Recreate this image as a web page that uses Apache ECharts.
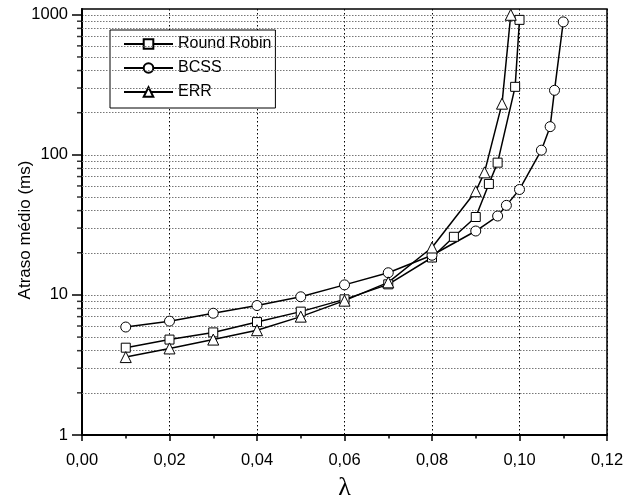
<!DOCTYPE html>
<html>
<head>
<meta charset="utf-8">
<script src="https://cdn.jsdelivr.net/npm/echarts@6/dist/echarts.min.js"></script>
<style>html,body{margin:0;padding:0;background:#fff;}#c{width:633px;height:499px;}</style>
</head>
<body>
<div id="c"></div>
<script>
const rrX   = [0.01,0.02,0.03,0.04,0.05,0.06,0.07,0.08,0.085,0.09,0.093,0.095,0.099,0.100];
const rrY   = [4.2,4.8,5.4,6.4,7.6,9.3,11.9,18.5,26,36,62,88,306,920];
const bcssX = [0.01,0.02,0.03,0.04,0.05,0.06,0.07,0.08,0.09,0.095,0.097,0.100,0.105,0.107,0.108,0.110];
const bcssY = [5.9,6.5,7.4,8.4,9.7,11.8,14.4,19.2,28.6,36.6,43.6,56.6,108,159,289,890];
const errX  = [0.01,0.02,0.03,0.04,0.05,0.06,0.07,0.08,0.09,0.092,0.096,0.098];
const errY  = [3.6,4.15,4.8,5.6,7.0,9.1,12.3,21.8,55,75,232,1000];
const yMajor = [1,10,100,1000];
const yMinor = [2,3,4,5,6,7,8,9,20,30,40,50,60,70,80,90,200,300,400,500,600,700,800,900];
const xLabels = ['0,00','0,02','0,04','0,06','0,08','0,10','0,12'];

const pairs = (xs, ys) => xs.map((x, i) => [x, ys[i]]);
const FONT = 'Liberation Sans';
const markerStyle = {color:'#fff', borderColor:'#000', borderWidth:1};
function lineSeries(name, data, symbol, size){
  return {name, type:'line', data, symbol, symbolSize:size, showAllSymbol:true,
    lineStyle:{color:'#000', width:1.5}, itemStyle:markerStyle, color:'#000', z:5};
}
const chart = echarts.init(document.getElementById('c'));
chart.setOption({
  animation:false,
  grid:{left:82, right:26, top:9, bottom:64, containLabel:false, outerBoundsMode:'none',
    show:true, borderColor:'#000', borderWidth:1.5, backgroundColor:'transparent'},
  legend:{
    orient:'vertical', left:110, top:30,
    data:['Round Robin','BCSS','ERR'],
    itemWidth:49, itemHeight:12, itemGap:8,
    padding:[6,4,8,13],
    borderColor:'#000', borderWidth:1, backgroundColor:'#fff',
    textStyle:{fontFamily:FONT, fontSize:16, color:'#000'}
  },
  xAxis:{
    type:'value', min:0, max:0.12, interval:0.02,
    name:'λ', nameLocation:'middle', nameGap:40, nameMoveOverlap:false,
    nameTextStyle:{fontFamily:'Liberation Serif', fontSize:26, color:'#000'},
    axisLine:{lineStyle:{color:'#000', width:2}},
    axisTick:{show:true, length:6, lineStyle:{color:'#000', width:1.5}},
    minorTick:{show:true, splitNumber:2, length:3.5, lineStyle:{color:'#000', width:1.5}},
    splitLine:{show:true, lineStyle:{color:'#000', type:[1.5,2.5], width:1}},
    axisLabel:{fontFamily:FONT, fontSize:16.5, color:'#000', margin:17,
      formatter:(v)=>xLabels[Math.round(v/0.02)]}
  },
  yAxis:{
    type:'log', logBase:10, min:1, max:1100,
    name:'Atraso médio (ms)', nameLocation:'middle', nameGap:48, nameMoveOverlap:false,
    nameTextStyle:{fontFamily:FONT, fontSize:17, color:'#000', padding:[0,16,0,0]},
    axisLine:{lineStyle:{color:'#000', width:2}},
    axisTick:{show:true, length:10, customValues:yMajor, lineStyle:{color:'#000', width:1.5}},
    splitLine:{show:true, lineStyle:{color:'#777', type:[1.5,1.5], width:1}},
    axisLabel:{fontFamily:FONT, fontSize:16.5, color:'#000', margin:14, customValues:yMajor,
      formatter:(v)=> yMajor.indexOf(Math.round(v))>=0 ? String(Math.round(v)) : ''}
  },
  series:[
    lineSeries('Round Robin', pairs(rrX, rrY), 'rect', 9),
    lineSeries('BCSS', pairs(bcssX, bcssY), 'circle', 10),
    lineSeries('ERR', pairs(errX, errY), 'triangle', 11),
    {
      name:'minorTicks', type:'scatter', silent:true, clip:false, z:1,
      data: yMinor.map(v => [0, v]), symbol:'rect', symbolSize:[6,1.5], symbolOffset:[-2,0],
      itemStyle:{color:'#000'},
      markLine:{
        silent:true, symbol:'none', label:{show:false},
        lineStyle:{color:'#777', type:[1.5,1.5], width:1},
        data: yMinor.map(v => ({yAxis:v}))
      }
    }
  ]
});
</script>
</body>
</html>
